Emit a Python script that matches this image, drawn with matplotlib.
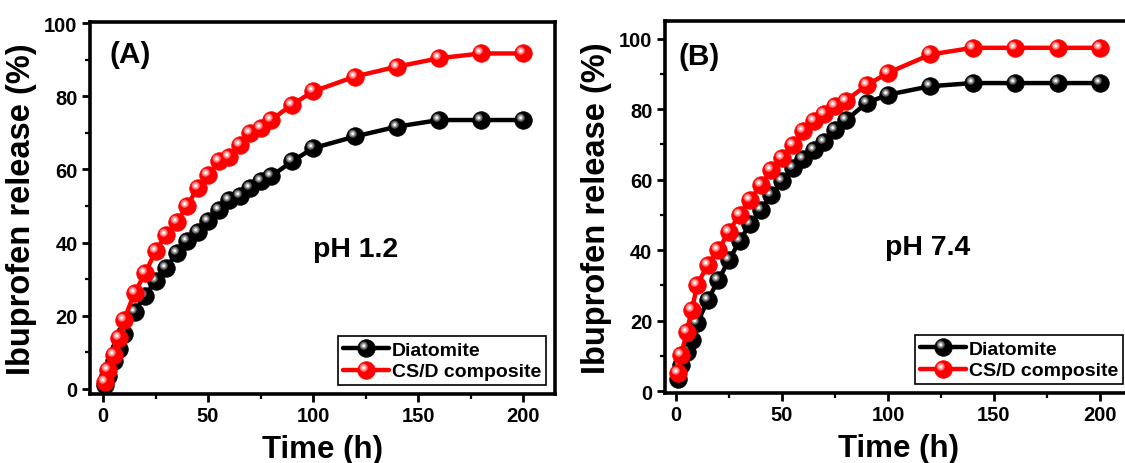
import matplotlib
matplotlib.use("Agg")
import matplotlib.pyplot as plt
from matplotlib.path import Path
from matplotlib.markers import MarkerStyle
from matplotlib.legend_handler import HandlerTuple
from matplotlib.ticker import MultipleLocator

plt.rcParams['font.family'] = ['Liberation Sans', 'DejaVu Sans']
plt.rcParams['font.weight'] = 'bold'

# ---------------- data ----------------
time_h = [1, 2.5, 5, 7.5, 10, 15, 20, 25, 30, 35, 40, 45, 50, 55, 60, 65, 70,
          75, 80, 90, 100, 120, 140, 160, 180, 200]

a_diatomite = [1.0, 3.5, 7.5, 11.0, 15.0, 21.0, 25.5, 29.5, 33.0, 37.1, 40.3, 43.0,
               45.8, 49.0, 51.7, 52.6, 54.9, 56.7, 58.1, 62.2, 65.8, 69.0, 71.7,
               73.5, 73.5, 73.5]
a_composite = [2.0, 5.2, 9.3, 13.9, 18.9, 26.2, 31.6, 37.6, 42.1, 45.5, 50.0, 54.9,
               58.5, 62.2, 63.5, 66.7, 69.9, 71.3, 73.5, 77.7, 81.3, 85.4, 88.1,
               90.4, 91.7, 91.7]

b_diatomite = [3.5, 7.5, 11.0, 14.5, 19.3, 25.9, 31.6, 37.2, 42.6, 47.5, 51.5, 55.7,
               59.5, 63.3, 66.0, 68.5, 70.6, 74.0, 76.8, 81.8, 84.1, 86.5, 87.4,
               87.4, 87.4, 87.4]
b_composite = [5.1, 10.3, 16.9, 23.1, 30.2, 35.9, 40.1, 45.3, 50.1, 54.3, 58.6, 62.8,
               66.1, 69.9, 73.7, 76.6, 78.6, 80.8, 82.4, 86.8, 90.3, 95.5, 97.4,
               97.4, 97.4, 97.4]

series_labels = ["Diatomite", "CS/D composite"]
panel_tags = ["(A)", "(B)"]
panel_ph = ["pH 1.2", "pH 7.4"]
x_ticks = [0, 50, 100, 150, 200]
y_ticks = [0, 20, 40, 60, 80, 100]

# ---------------- styling ----------------
W, H = 1125, 464
fig = plt.figure(figsize=(W / 100, H / 100), dpi=100)

ax_a = fig.add_axes([90 / W, (H - 395) / H, 465 / W, 372 / H])
ax_b = fig.add_axes([665 / W, (H - 394) / H, 467 / W, 372 / H])


def hl_marker(r, cx=-0.16, cy=0.16):
    circ = Path.circle((cx, cy), r)
    anchor = Path([[0.5, 0.0]], [Path.MOVETO])
    return MarkerStyle(Path.make_compound_path(anchor, circ))


MS = 12.6
styles = {
    "k": dict(base="#000000", layers=[(0.23, "#5e5e5e"), (0.15, "#a8a8a8"), (0.075, "#ffffff")]),
    "r": dict(base="#ff0000", layers=[(0.23, "#ff6e6e"), (0.15, "#ffb4b4"), (0.075, "#ffffff")]),
}


def ball_series(ax, x, y, key, label):
    st = styles[key]
    ln, = ax.plot(x, y, color=st["base"], lw=3.2, marker="o", ms=MS,
                  mfc=st["base"], mec=st["base"], mew=0.6, label=label,
                  solid_capstyle="round")
    handles = [ln]
    for r, c in st["layers"]:
        h, = ax.plot(x, y, ls="none", marker=hl_marker(r), ms=MS,
                     mfc=c, mec="none", mew=0)
        handles.append(h)
    return tuple(handles)


panels = [
    (ax_a, a_diatomite, a_composite, (-6.2, 215.2), (-1.4, 100.3),
     (0.043, 0.915), (0.572, 0.39)),
    (ax_b, b_diatomite, b_composite, (-5.2, 215.1), (-0.5, 105.0),
     (0.028, 0.905), (0.562, 0.392)),
]

for i, (ax, yd, yc, xl, yl, tagpos, phpos) in enumerate(panels):
    h1 = ball_series(ax, time_h, yd, "k", series_labels[0])
    h2 = ball_series(ax, time_h, yc, "r", series_labels[1])
    ax.set_xlim(*xl)
    ax.set_ylim(*yl)
    ax.set_xticks(x_ticks)
    ax.set_yticks(y_ticks)
    ax.xaxis.set_minor_locator(MultipleLocator(25))
    ax.yaxis.set_minor_locator(MultipleLocator(10))
    ax.tick_params(which="major", direction="out", length=6, width=2,
                   labelsize=14.5, pad=3)
    ax.tick_params(which="minor", direction="out", length=3.5, width=1.6)
    ax.tick_params(top=False, right=False, which="both")
    for sp in ax.spines.values():
        sp.set_linewidth(2.6)
    for lab in ax.get_xticklabels() + ax.get_yticklabels():
        lab.set_fontweight("bold")
    ax.set_xlabel("Time (h)", fontsize=22.5, fontweight="bold", labelpad=6)
    ax.set_ylabel("Ibuprofen release (%)", fontsize=23.5, fontweight="bold",
                  labelpad=5)
    ax.text(tagpos[0], tagpos[1], panel_tags[i], transform=ax.transAxes,
            fontsize=21.5, fontweight="bold", ha="left", va="center")
    ax.text(phpos[0], phpos[1], panel_ph[i], transform=ax.transAxes,
            fontsize=20.5, fontweight="bold", ha="center", va="center")
    leg = ax.legend([h1, h2], series_labels,
                    handler_map={tuple: HandlerTuple(ndivide=1, pad=0)},
                    loc="lower right", fontsize=14, frameon=True, fancybox=False,
                    edgecolor="black", framealpha=1, numpoints=1,
                    handlelength=2.4, handletextpad=0.15, borderpad=0.25,
                    labelspacing=0.2, borderaxespad=0.45)
    leg.get_frame().set_linewidth(1.2)
    for t in leg.get_texts():
        t.set_fontweight("bold")

fig.savefig("out.png", dpi=100)
